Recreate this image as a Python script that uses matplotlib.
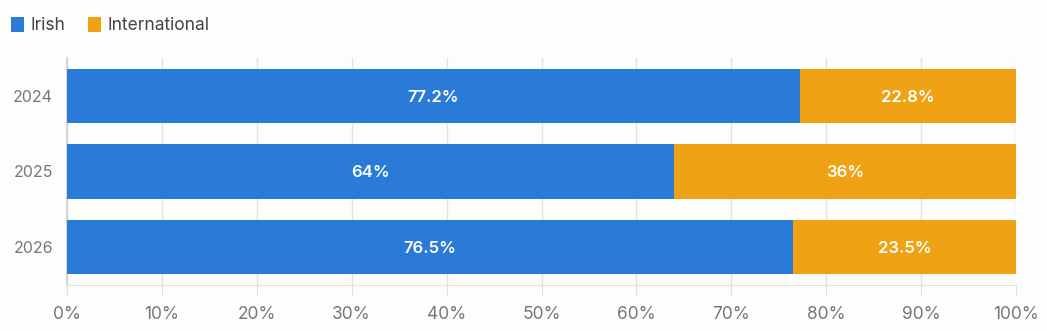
import matplotlib
matplotlib.use("Agg")
import matplotlib.pyplot as plt
from matplotlib.patches import Patch

plt.rcParams['font.family'] = ['Inter', 'DejaVu Sans']

years = ["2024", "2025", "2026"]
irish = [77.2, 64.0, 76.5]
international = [22.8, 36.0, 23.5]
irish_labels = ["77.2%", "64%", "76.5%"]
intl_labels = ["22.8%", "36%", "23.5%"]
xticks = [0, 10, 20, 30, 40, 50, 60, 70, 80, 90, 100]

blue = "#2A7AD8"
orange = "#EFA314"

fig = plt.figure(figsize=(10.47, 3.31), dpi=100)
fig.patch.set_facecolor("#FDFDFC")
ax = fig.add_axes([0.064, 0.139, 0.9065, 0.686])
ax.set_facecolor("#FDFDFC")

y = list(range(len(years)))
ax.barh(y, irish, height=0.715, color=blue, zorder=3)
ax.barh(y, international, left=irish, height=0.715, color=orange, zorder=3)

for i in y:
    ax.text(irish[i] / 2, i, irish_labels[i], ha="center", va="center_baseline",
            color="white", fontsize=12, fontweight="semibold", zorder=4)
    ax.text(irish[i] + international[i] / 2, i, intl_labels[i], ha="center",
            va="center_baseline", color="white", fontsize=12, fontweight="semibold", zorder=4)

ax.set_xlim(0, 100)
ax.set_ylim(2.5, -0.5)
ax.set_yticks(y)
ax.set_yticklabels(years)
ax.set_xticks(xticks)
ax.set_xticklabels([f"{t}%" for t in xticks])
ax.grid(axis="x", color="#E2E2E0", linewidth=1, zorder=0)
ax.tick_params(axis="x", length=7, color="#DDDDDB", labelcolor="#777777", labelsize=12.5, pad=8)
ax.tick_params(axis="y", length=0, labelcolor="#777777", labelsize=11.5, pad=10)
for s in ["top", "right"]:
    ax.spines[s].set_visible(False)
ax.spines["left"].set_color("#CFCFCC")
ax.spines["left"].set_linewidth(1.2)
ax.spines["bottom"].set_color("#E2E2E0")

handles = [Patch(facecolor=blue, label="Irish"), Patch(facecolor=orange, label="International")]
fig.legend(handles=handles, loc="upper left", bbox_to_anchor=(-0.004, 0.995), ncol=2,
           frameon=False, fontsize=12.5, handlelength=0.75, handleheight=0.9,
           handletextpad=0.35, columnspacing=1.3, labelcolor="#444444")

fig.savefig("out.png", dpi=100, facecolor=fig.get_facecolor())
